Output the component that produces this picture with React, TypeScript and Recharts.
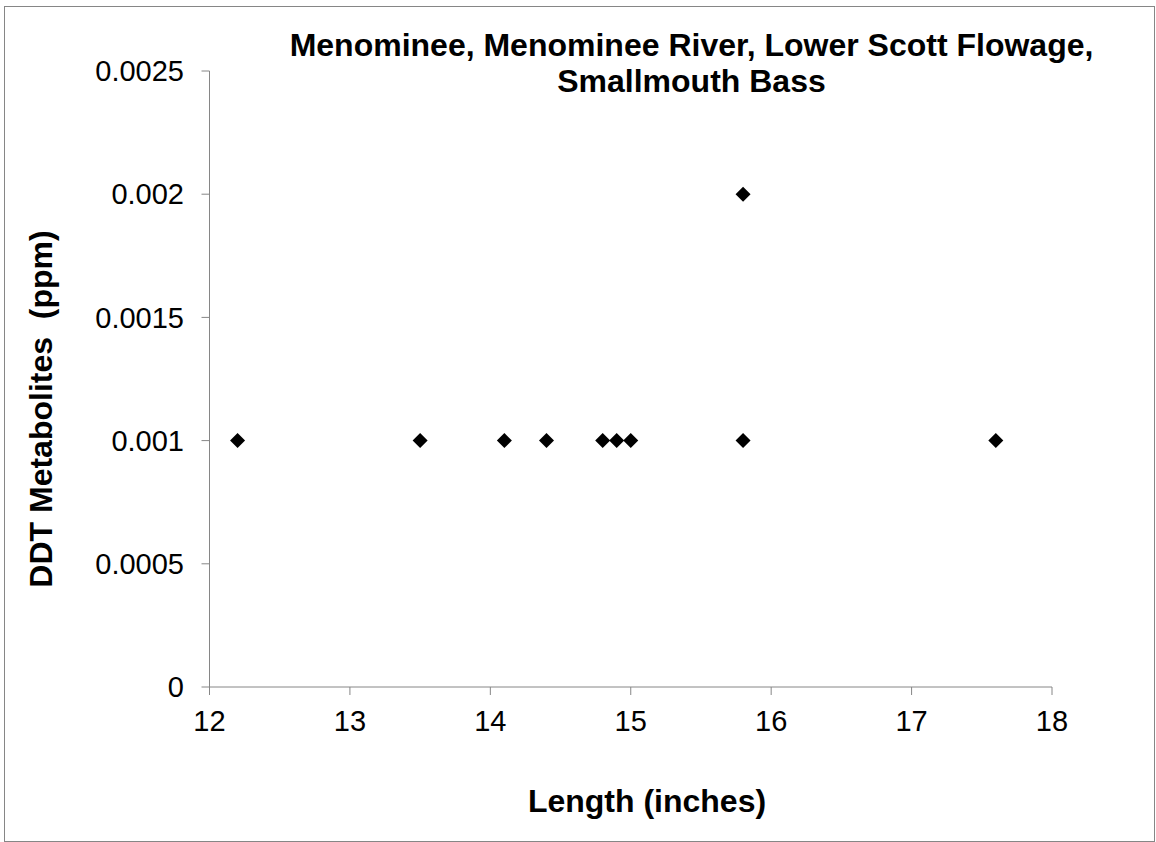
import { ScatterChart, Scatter, XAxis, YAxis } from 'recharts';

// fish length (inches) vs DDT metabolites (ppm)
const lengths = [12.2, 13.5, 14.1, 14.4, 14.8, 14.9, 15.0, 15.8, 15.8, 17.6];
const ddt = [0.001, 0.001, 0.001, 0.001, 0.001, 0.001, 0.001, 0.001, 0.002, 0.001];
const xTicks = [12, 13, 14, 15, 16, 17, 18];
const yTicks = [0, 0.0005, 0.001, 0.0015, 0.002, 0.0025];
const titleLines = ['Menominee, Menominee River, Lower Scott Flowage,', 'Smallmouth Bass'];

const data = lengths.map((x, i) => ({ x, y: ddt[i] }));

const FONT = '"Liberation Sans", Arial, sans-serif';
const AXIS = '#868686';

function Diamond({ cx, cy }: any) {
  const r = 7.5;
  return (
    <polygon
      points={`${cx},${cy - r} ${cx + r},${cy} ${cx},${cy + r} ${cx - r},${cy}`}
      fill="#000"
    />
  );
}

export default function App() {
  return (
    <div style={{ position: 'absolute', left: 0, top: 0, width: 1156, height: 842, background: '#fff' }}>
      <div
        style={{
          position: 'absolute', left: 4, top: 6, width: 1149, height: 834,
          border: `1px solid ${AXIS}`,
        }}
      />
      <ScatterChart
        width={1156}
        height={842}
        margin={{ top: 71, right: 104, bottom: 0, left: 0 }}
        style={{ position: 'absolute', left: 0, top: 0, fontFamily: FONT }}
      >
        <XAxis
          type="number"
          dataKey="x"
          domain={[12, 18]}
          ticks={xTicks}
          height={155}
          tickSize={8}
          tickMargin={15}
          tick={{ fill: '#000', fontSize: 29, fontFamily: FONT }}
          axisLine={{ stroke: AXIS }}
          tickLine={{ stroke: AXIS }}
        />
        <YAxis
          type="number"
          dataKey="y"
          domain={[0, 0.0025]}
          ticks={yTicks}
          width={209.5}
          tickSize={8}
          tickMargin={17.5}
          tick={{ fill: '#000', fontSize: 29, fontFamily: FONT }}
          axisLine={{ stroke: AXIS }}
          tickLine={{ stroke: AXIS }}
        />
        <Scatter data={data} shape={<Diamond />} isAnimationActive={false} />
        <text x={691.5} textAnchor="middle" fontSize={32} fontWeight="bold" fontFamily={FONT} fill="#000">
          <tspan x={691.5} y={56}>{titleLines[0]}</tspan>
          <tspan x={691.5} y={92}>{titleLines[1]}</tspan>
        </text>
        <text x={647} y={812} textAnchor="middle" fontSize={32} fontWeight="bold" fontFamily={FONT} fill="#000">
          Length (inches)
        </text>
        <text
          x={52}
          y={409}
          transform="rotate(-90 52 409)"
          textAnchor="middle"
          fontSize={32}
          fontWeight="bold"
          fontFamily={FONT}
          fill="#000"
          style={{ whiteSpace: 'pre' }}
        >
          DDT Metabolites  (ppm)
        </text>
      </ScatterChart>
    </div>
  );
}
